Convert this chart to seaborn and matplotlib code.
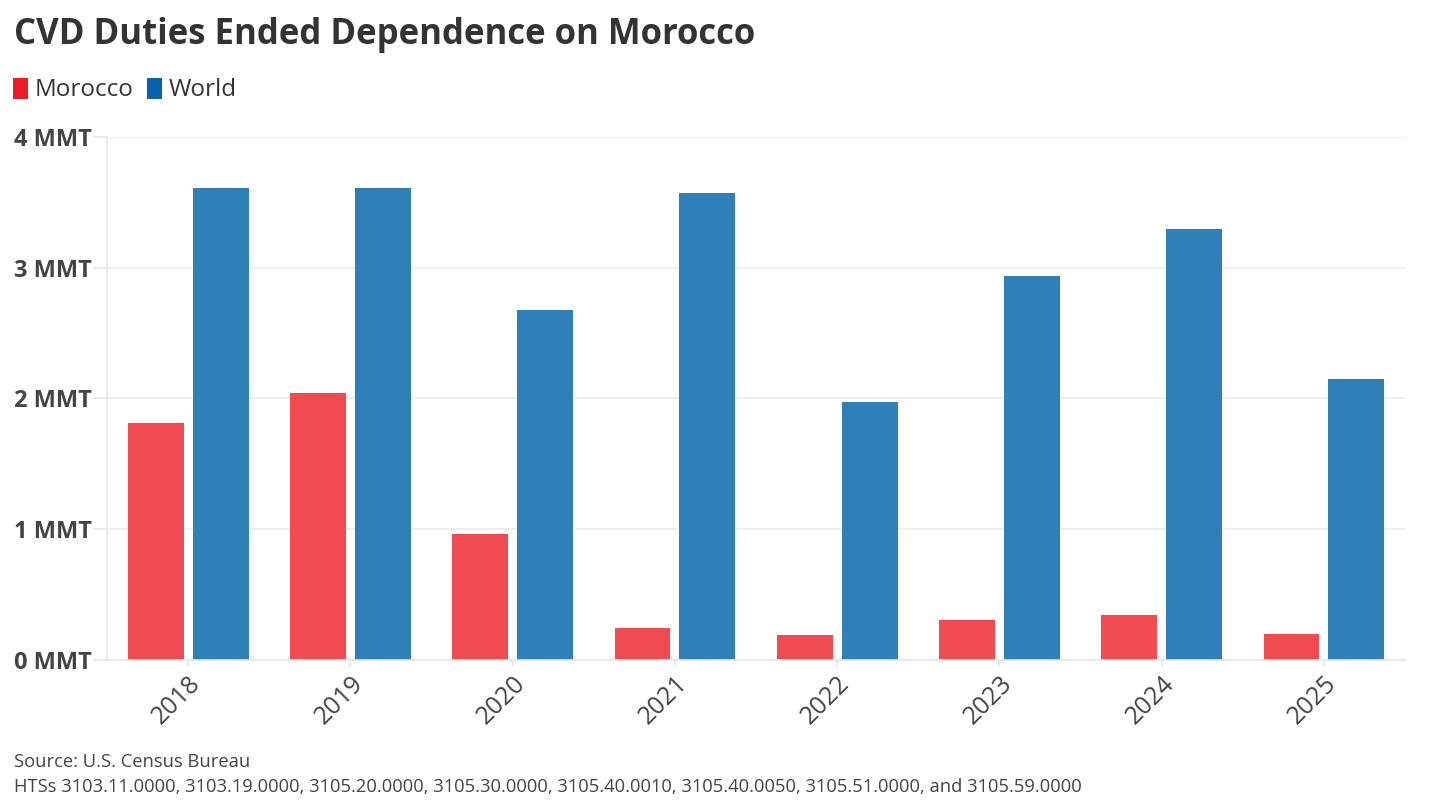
import pandas as pd
import matplotlib.pyplot as plt
import seaborn as sns
from matplotlib.patches import Patch

years = ["2018", "2019", "2020", "2021", "2022", "2023", "2024", "2025"]
morocco = [1.81, 2.04, 0.96, 0.245, 0.19, 0.305, 0.345, 0.20]
world = [3.61, 3.61, 2.68, 3.57, 1.97, 2.94, 3.30, 2.15]
series = ["Morocco", "World"]
bar_colors = {"Morocco": "#EF4B51", "World": "#2F80B8"}
key_colors = {"Morocco": "#ED1C24", "World": "#0763AD"}

df = pd.DataFrame({
    "year": years * 2,
    "value": morocco + world,
    "series": ["Morocco"] * len(years) + ["World"] * len(years),
})

sns.set_theme(style="white")
plt.rcParams["font.family"] = ["Open Sans", "DejaVu Sans"]

fig = plt.figure(figsize=(14.43, 8.11), dpi=100)
ax = fig.add_axes([0.0742, 0.1862, 0.8995, 0.6449])

sns.barplot(data=df, x="year", y="value", hue="series", hue_order=series,
            palette=bar_colors, width=0.8, gap=0.14, saturation=1,
            edgecolor="none", legend=False, ax=ax)

ax.set_xlim(-0.5, len(years) - 0.5)
ax.set_ylim(0, 4)
ax.set_yticks([0, 1, 2, 3, 4])
ax.set_yticklabels([f"{v} MMT" for v in range(5)], fontsize=17,
                   fontweight="bold", color="#444444")
ax.set_xticks(range(len(years)))
ax.set_xticklabels(years, rotation=45, ha="right", rotation_mode="anchor",
                   fontsize=18, color="#444444")
ax.set_xlabel("")
ax.set_ylabel("")
ax.grid(axis="y", color="#EBEBEB", linewidth=1.2)
ax.set_axisbelow(True)
for side in ["top", "right"]:
    ax.spines[side].set_visible(False)
for side in ["left", "bottom"]:
    ax.spines[side].set_color("#E6E6E6")
    ax.spines[side].set_linewidth(1.2)
ax.tick_params(axis="y", length=10, color="#E6E6E6", width=1.2, pad=1, left=True)
ax.tick_params(axis="x", length=5, color="#E6E6E6", width=1.2, pad=3, bottom=True)

# title
fig.text(0.0097, 0.957, "CVD Duties Ended Dependence on Morocco", fontsize=25,
         fontweight="bold", color="#333333", va="center", ha="left")

# legend
handles = [Patch(facecolor=key_colors[s], edgecolor="none") for s in series]
fig.legend(handles, series, loc="center left", bbox_to_anchor=(0.009, 0.889),
           ncol=2, frameon=False, fontsize=17.5, handlelength=0.6,
           handleheight=0.95, handletextpad=0.3, columnspacing=0.55,
           borderpad=0, borderaxespad=0, labelcolor="#333333")

# footnotes
fig.text(0.0097, 0.060, "Source: U.S. Census Bureau", fontsize=13.2,
         color="#444444", va="center")
fig.text(0.0097, 0.029,
         "HTSs 3103.11.0000, 3103.19.0000, 3105.20.0000, 3105.30.0000, "
         "3105.40.0010, 3105.40.0050, 3105.51.0000, and 3105.59.0000",
         fontsize=13.2, color="#444444", va="center")

fig.savefig("out.png", dpi=100)
